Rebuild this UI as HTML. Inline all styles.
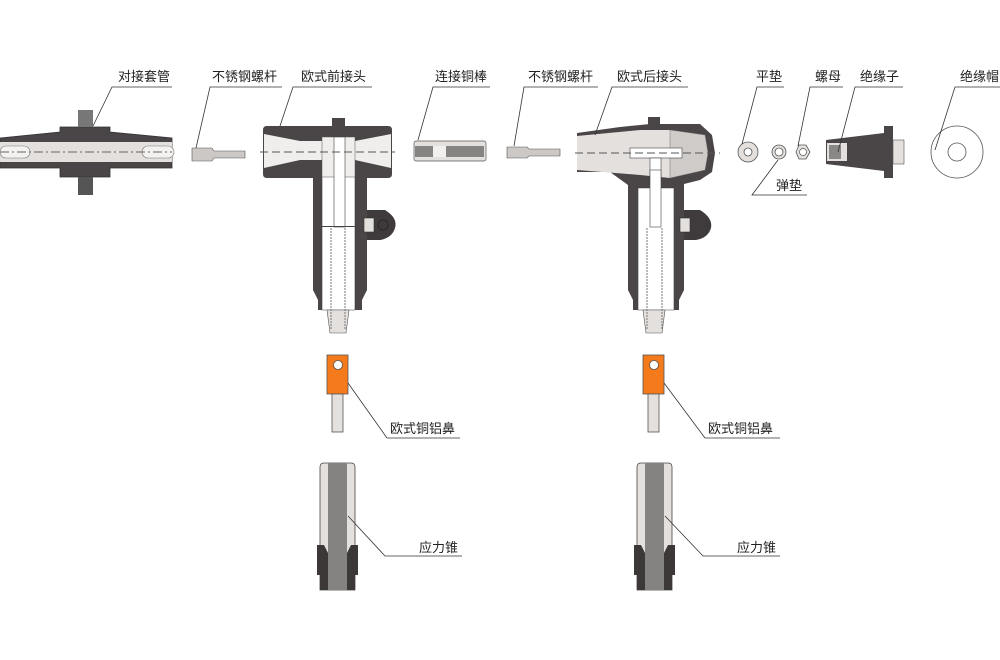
<!DOCTYPE html>
<html><head><meta charset="utf-8"><style>
html,body{margin:0;padding:0;background:#fff;}
svg{display:block}
text{font-family:"Liberation Sans","Noto Sans CJK SC",sans-serif;font-size:13px;fill:#222;}
</style></head><body>
<svg width="1000" height="660" viewBox="0 0 1000 660" xmlns="http://www.w3.org/2000/svg">
<defs>
<g id="lug">
 <rect x="0" y="0" width="21" height="39" fill="#f57a1c" stroke="#555" stroke-width="0.8"/>
 <circle cx="11" cy="10" r="4.5" fill="#fff" stroke="#555" stroke-width="0.8"/>
 <rect x="5" y="39" width="11" height="38" fill="#e4e0de" stroke="#555" stroke-width="0.8"/>
</g>
<g id="cone">
 <path d="M0,4 Q0,0 4,0 L31,0 Q35,0 35,4 L35,127 L0,127 Z" fill="#e4e0de" stroke="#444" stroke-width="0.8"/>
 <rect x="8" y="0" width="19" height="127" fill="#858282"/>
 <path d="M-3,82 L4,82 L8,90 L8,127 L0,127 L0,112 L-3,112 Z" fill="#3c3838"/>
 <path d="M38,82 L31,82 L27,90 L27,127 L35,127 L35,112 L38,112 Z" fill="#3c3838"/>
</g>
</defs>

<!-- 对接套管 -->
<path d="M0,138 L60,132 L60,127 L110,127 L110,132 L172,138 L172,168 L110,168 L110,177 L60,177 L60,168 L0,168 Z" fill="#4a4546" stroke="#333" stroke-width="0.8"/>
<rect x="0" y="142" width="172" height="20" fill="#e4e0de"/>
<rect x="0" y="146" width="30" height="12" rx="6" fill="#f4f2f0" stroke="#777" stroke-width="0.6"/>
<rect x="142" y="146" width="32" height="12" rx="6" fill="#f4f2f0" stroke="#777" stroke-width="0.6"/>
<line x1="0" y1="152" x2="172" y2="152" stroke="#666" stroke-dasharray="9,3,2,3"/>
<rect x="78" y="110" width="15" height="17" fill="#777"/>
<rect x="78" y="177" width="15" height="18" fill="#555"/>

<!-- 不锈钢螺杆 1 -->
<path d="M192,148 L212,148 L214,151 L245,151 L245,158 L214,158 L212,161 L192,161 Z" fill="#ccc8c6" stroke="#555" stroke-width="0.6"/>
<!-- 不锈钢螺杆 2 -->
<path d="M507,147 L527,147 L529,149 L560,149 L560,156 L529,156 L527,158 L507,158 Z" fill="#ccc8c6" stroke="#555" stroke-width="0.6"/>

<!-- 连接铜棒 -->
<rect x="414" y="141" width="72" height="20" rx="2" fill="#e4e0de" stroke="#555" stroke-width="0.7"/>
<rect x="415" y="146" width="69" height="11" fill="#868383"/>
<rect x="433" y="146" width="13" height="11" fill="#f2f0ee"/>

<!-- 欧式前接头 -->
<g>
 <path d="M313,178 L313,290 L318,300 L318,310 L362,310 L362,300 L367,290 L367,178 Z" fill="#4a4546"/>
 <path d="M367,210 L385,210 Q398,218 395,228 Q392,238 380,240 L367,240 Z" fill="#3f3a3b"/>
 <rect x="364" y="218" width="10" height="14" fill="#e4e0de" stroke="#333" stroke-width="0.6"/>
 <circle cx="383" cy="225" r="5" fill="none" stroke="#222" stroke-width="0.8"/>
 <path d="M263,130 Q263,126 267,126 L388,126 Q392,126 392,130 L392,174 Q392,178 388,178 L267,178 Q263,178 263,174 Z" fill="#4a4546"/>
 <path d="M264,134 L300,141 L355,141 L391,134 L391,168 L355,160 L300,160 L264,168 Z" fill="#f0eeec"/>
 <path d="M322,160 L355,160 L355,310 L322,310 Z" fill="#fff" stroke="#444" stroke-width="0.6"/>
 <rect x="322" y="137" width="33" height="40" fill="#f0eeec" stroke="#555" stroke-width="0.5"/>
 <rect x="334" y="137" width="11" height="90" fill="#fff" stroke="#444" stroke-width="0.6"/>
 <rect x="322" y="226" width="33" height="1" fill="#444"/>
 <path d="M327,310 L349,310 L346,333 L330,333 Z" fill="#e4e0de" stroke="#555" stroke-width="0.6"/>
 <line x1="331" y1="228" x2="331" y2="330" stroke="#777" stroke-dasharray="2,1"/>
 <line x1="345" y1="228" x2="345" y2="330" stroke="#777" stroke-dasharray="2,1"/>
 <rect x="332" y="118" width="13" height="9" fill="#4a4546"/>
 <line x1="260" y1="152" x2="395" y2="152" stroke="#555" stroke-dasharray="8,4"/>
</g>

<!-- 欧式后接头 -->
<g>
 <path d="M628,172 L628,290 L633,300 L633,310 L679,310 L679,300 L684,290 L684,172 Z" fill="#4a4546"/>
 <path d="M684,210 L700,210 Q713,218 711,228 Q708,238 696,240 L684,240 Z" fill="#3f3a3b"/>
 <rect x="680" y="218" width="10" height="14" fill="#e4e0de" stroke="#333" stroke-width="0.6"/>
 <path d="M577,133 L620,127 L650,124 L700,124 L712,135 L715,153 L712,172 L700,180 L680,185 L628,185 L610,172 L577,172 Z" fill="#4a4546"/>
 <path d="M577,136 L640,130 L670,130 L705,135 L708,153 L705,170 L670,178 L640,175 L577,170 Z" fill="#e4e0de"/>
 <path d="M670,130 L705,135 L708,153 L705,170 L670,178 Z" fill="#cfcbc8" stroke="#777" stroke-width="0.5"/>
 <rect x="630" y="148" width="52" height="10" fill="#fff" stroke="#444" stroke-width="0.6"/>
 <rect x="650" y="158" width="11" height="70" fill="#fff" stroke="#444" stroke-width="0.6"/>
 <path d="M638,188 L674,188 L674,310 L638,310 Z" fill="#fff" stroke="#444" stroke-width="0.6"/>
 <rect x="650" y="170" width="11" height="57" fill="#fff" stroke="#444" stroke-width="0.6"/>
 <path d="M643,310 L665,310 L662,333 L646,333 Z" fill="#e4e0de" stroke="#555" stroke-width="0.6"/>
 <line x1="647" y1="228" x2="647" y2="330" stroke="#777" stroke-dasharray="2,1"/>
 <line x1="662" y1="228" x2="662" y2="330" stroke="#777" stroke-dasharray="2,1"/>
 <rect x="648" y="117" width="12" height="9" fill="#4a4546"/>
 <line x1="575" y1="153" x2="720" y2="153" stroke="#555" stroke-dasharray="8,4"/>
</g>

<!-- 平垫, 弹垫, 螺母 -->
<circle cx="748" cy="152" r="10" fill="#e4e0de" stroke="#555" stroke-width="0.8"/>
<circle cx="748" cy="152" r="4" fill="#fff" stroke="#555" stroke-width="0.8"/>
<circle cx="779" cy="152" r="7" fill="#e4e0de" stroke="#555" stroke-width="0.8"/>
<circle cx="779" cy="152" r="4" fill="#fff" stroke="#555" stroke-width="0.8"/>
<polygon points="796,152 799,145 806,145 810,152 806,159 799,159" fill="#e4e0de" stroke="#555" stroke-width="0.8"/>
<circle cx="803" cy="152" r="3.5" fill="#fff" stroke="#555" stroke-width="0.7"/>

<!-- 绝缘子 -->
<path d="M826,140 L884,133 L884,126 L893,126 L893,178 L884,178 L884,171 L826,164 Z" fill="#4a4546"/>
<rect x="827" y="143" width="20" height="18" fill="#e4e0de"/>
<rect x="829" y="145" width="12" height="14" fill="#8a8787"/>
<rect x="893" y="140" width="11" height="24" fill="#e4e0de" stroke="#555" stroke-width="0.6"/>

<!-- 绝缘帽 -->
<circle cx="957" cy="152" r="26" fill="#fff" stroke="#555" stroke-width="0.8"/>
<circle cx="957" cy="152" r="9" fill="#fff" stroke="#555" stroke-width="0.8"/>

<!-- lugs and cones -->
<use href="#lug" x="327" y="355"/>
<use href="#lug" x="643" y="355"/>
<use href="#cone" x="320" y="463"/>
<use href="#cone" x="637" y="463"/>

<!-- labels -->
<g stroke="#333" stroke-width="0.8" fill="none">
 <polyline points="172,87 112,87 93,126"/>
 <polyline points="282,87 210,87 196,148"/>
 <polyline points="372,87 293,87 280,126"/>
 <polyline points="490,87 433,87 418,140"/>
 <polyline points="598,87 524,87 514,146"/>
 <polyline points="688,87 612,87 595,135"/>
 <polyline points="784,87 757,87 742,144"/>
 <polyline points="843,87 810,87 798,146"/>
 <polyline points="903,87 855,87 838,152"/>
 <polyline points="1000,87 955,87 935,150"/>
 <polyline points="807,195 752,195 778,160"/>
 <polyline points="460,438 387,438 348,383"/>
 <polyline points="462,556 385,556 348,516"/>
 <polyline points="780,438 705,438 664,383"/>
 <polyline points="780,556 703,556 665,516"/>
</g>
<text x="118" y="81">对接套管</text>
<text x="212" y="81">不锈钢螺杆</text>
<text x="301" y="81">欧式前接头</text>
<text x="435" y="81">连接铜棒</text>
<text x="528" y="81">不锈钢螺杆</text>
<text x="617" y="81">欧式后接头</text>
<text x="756" y="81">平垫</text>
<text x="815" y="81">螺母</text>
<text x="860" y="81">绝缘子</text>
<text x="960" y="81">绝缘帽</text>
<text x="776" y="190">弹垫</text>
<text x="390" y="433">欧式铜铝鼻</text>
<text x="419" y="552">应力锥</text>
<text x="708" y="433">欧式铜铝鼻</text>
<text x="737" y="552">应力锥</text>
</svg>
</body></html>
